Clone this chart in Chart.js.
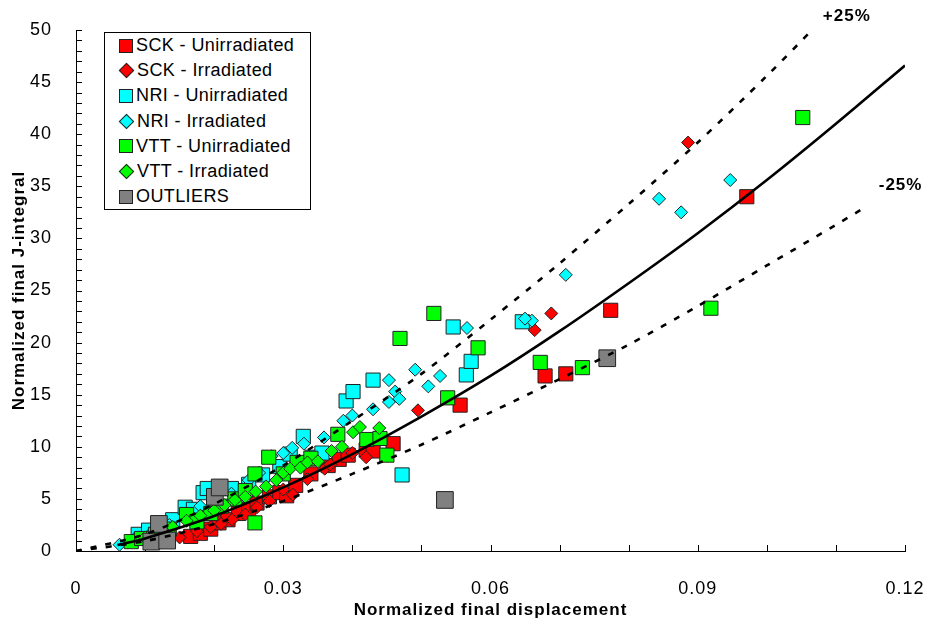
<!DOCTYPE html>
<html>
<head>
<meta charset="utf-8">
<script src="https://cdn.jsdelivr.net/npm/chart.js@4.4.0/dist/chart.umd.min.js"></script>
<style>
  body { margin: 0; background: #fff; }
  #wrap { position: relative; width: 925px; height: 628px; }
  #legend {
    position: absolute; left: 104px; top: 32px; width: 207px; height: 178px;
    box-sizing: border-box; border: 1px solid #000; background: #fff;
    font: 18px 'Liberation Sans', Arial, sans-serif; letter-spacing: 0.4px; color: #000; padding-top: 0px;
  }
  #legend .row { height: 25.2px; display: flex; align-items: center; white-space: nowrap; }
  #legend .mk { box-sizing: border-box; border: 1px solid #222; flex: none; }
</style>
</head>
<body>
<div id="wrap">
  <canvas id="chart1" width="925" height="628"></canvas>
  <div id="legend"></div>
</div>
<script>
// [normalized displacement, normalized J]
const sckUnirr = [
  [0.0166, 1.4], [0.0180, 1.7], [0.0195, 2.1], [0.0207, 2.7], [0.0220, 3.0],
  [0.0235, 3.6], [0.0250, 4.0], [0.0262, 4.6], [0.0280, 5.2], [0.0295, 5.6],
  [0.0305, 5.3], [0.0318, 6.3], [0.0340, 7.4], [0.0365, 8.2], [0.0381, 8.8],
  [0.0394, 9.2], [0.0420, 9.7], [0.0430, 9.6], [0.0459, 10.3], [0.0556, 14.0],
  [0.0679, 16.8], [0.0709, 17.0], [0.0774, 23.1], [0.0971, 34.0]
];
const sckIrr = [
  [0.0130, 1.0], [0.0150, 1.3], [0.0175, 1.9], [0.0195, 2.3], [0.0210, 2.6],
  [0.0226, 3.0], [0.0245, 3.5], [0.0262, 4.2], [0.0280, 4.8], [0.0300, 5.9],
  [0.0314, 5.4], [0.0335, 6.9], [0.0360, 7.9], [0.0368, 8.3], [0.0400, 9.4],
  [0.0420, 9.0], [0.0495, 13.5], [0.0664, 21.2], [0.0688, 22.8], [0.0886, 39.2]
];
const nriUnirr = [
  [0.0090, 1.6], [0.0105, 2.0], [0.0120, 2.3], [0.0140, 3.0], [0.0158, 4.2],
  [0.0170, 4.0], [0.0184, 5.6], [0.0190, 6.0], [0.0200, 4.8], [0.0225, 6.0],
  [0.0250, 6.4], [0.0270, 7.3], [0.0295, 8.1], [0.0310, 9.3], [0.0329, 11.0],
  [0.0342, 9.0], [0.0356, 9.4], [0.0391, 14.4], [0.0401, 15.3], [0.0430, 16.4],
  [0.0472, 7.3], [0.0546, 21.5], [0.0565, 16.9], [0.0572, 18.2], [0.0646, 22.0]
];
const nriIrr = [
  [0.0063, 0.6], [0.0085, 1.2], [0.0110, 1.8], [0.0135, 2.5], [0.0160, 3.5],
  [0.0180, 4.3], [0.0200, 4.6], [0.0225, 5.5], [0.0250, 6.8], [0.0265, 7.5],
  [0.0283, 9.1], [0.0300, 9.4], [0.0313, 9.9], [0.0330, 10.3], [0.0359, 10.9],
  [0.0387, 12.5], [0.0400, 13.0], [0.0430, 13.6], [0.0453, 14.3], [0.0462, 15.3],
  [0.0468, 14.6], [0.0453, 16.4], [0.0491, 17.4], [0.0510, 15.8], [0.0527, 16.8],
  [0.0566, 21.4], [0.0660, 22.1], [0.0650, 22.3], [0.0709, 26.5], [0.0844, 33.8],
  [0.0876, 32.5], [0.0947, 35.6]
];
const vttUnirr = [
  [0.0080, 0.9], [0.0095, 1.2], [0.0115, 1.6], [0.0135, 2.1], [0.0160, 3.5],
  [0.0175, 2.8], [0.0195, 3.6], [0.0210, 4.3], [0.0230, 5.0], [0.0245, 5.8],
  [0.0259, 7.4], [0.0259, 2.7], [0.0279, 9.0], [0.0300, 7.4], [0.0320, 8.5],
  [0.0340, 8.9], [0.0379, 11.2], [0.0421, 10.7], [0.0440, 10.8], [0.0450, 9.2],
  [0.0469, 20.4], [0.0518, 22.8], [0.0538, 14.7], [0.0582, 19.5], [0.0672, 18.1],
  [0.0733, 17.6], [0.0919, 23.3], [0.1052, 41.6]
];
const vttIrr = [
  [0.0100, 1.3], [0.0120, 1.8], [0.0140, 2.3], [0.0160, 2.9], [0.0180, 3.4],
  [0.0200, 3.9], [0.0215, 4.4], [0.0230, 4.9], [0.0245, 5.2], [0.0260, 5.7],
  [0.0275, 6.2], [0.0290, 6.8], [0.0300, 7.5], [0.0310, 7.9], [0.0325, 8.0],
  [0.0335, 8.5], [0.0350, 8.6], [0.0370, 9.6], [0.0385, 10.0], [0.0401, 11.4],
  [0.0411, 11.9], [0.0439, 11.8]
];
const outliers = [
  [0.0109, 0.9], [0.0132, 1.0], [0.0120, 2.6], [0.0201, 5.2], [0.0208, 6.1],
  [0.0534, 4.9], [0.0769, 18.5]
];

// curves
const fitX   = [0.006, 0.01, 0.02, 0.03, 0.04, 0.05, 0.06, 0.07, 0.08, 0.09, 0.10, 0.11, 0.12];
const fitY   = [0.57, 1.2, 3.35, 6.1, 9.3, 12.9, 16.8, 21.1, 25.7, 30.5, 35.6, 41.0, 46.6];
const upperX = [0, 0.01, 0.02, 0.03, 0.04, 0.05, 0.06, 0.07, 0.08, 0.09, 0.10, 0.107];
const upperY = [0, 1.6, 4.5, 8.2, 12.5, 17.0, 22.2, 27.6, 33.3, 39.2, 45.6, 50.3];
const lowerX = [0, 0.01, 0.02, 0.03, 0.04, 0.05, 0.06, 0.07, 0.08, 0.09, 0.10, 0.11, 0.1145];
const lowerY = [0, 0.95, 2.6, 4.8, 7.4, 10.2, 13.3, 16.5, 19.8, 23.5, 27.4, 31.3, 33.1];

const bandLabels = ['+25%', '-25%'];

const pts = arr => arr.map(p => ({x: p[0], y: p[1]}));
const curve = (xs, ys) => xs.map((x, i) => ({x: x, y: ys[i]}));

function markerSet(label, data, color, style, r, order) {
  return {
    label: label,
    data: pts(data),
    pointStyle: style,
    pointRadius: r,
    pointHoverRadius: r,
    backgroundColor: color,
    borderColor: '#222',
    borderWidth: 1,
    showLine: false,
    order: order
  };
}
function lineSet(label, data, dash, order) {
  return {
    label: label,
    data: data,
    showLine: true,
    pointRadius: 0,
    borderColor: '#000',
    borderWidth: 2.6,
    borderDash: dash,
    tension: 0.3,
    fill: false,
    order: order
  };
}

const series = [
  markerSet('SCK - Unirradiated', sckUnirr, '#ff0000', 'rect', 10, 8),
  markerSet('SCK - Irradiated', sckIrr, '#ff0000', 'rectRot', 6.5, 7),
  markerSet('NRI - Unirradiated', nriUnirr, '#00ffff', 'rect', 10, 6),
  markerSet('NRI - Irradiated', nriIrr, '#00ffff', 'rectRot', 6.5, 5),
  markerSet('VTT - Unirradiated', vttUnirr, '#00ff00', 'rect', 10, 4),
  markerSet('VTT - Irradiated', vttIrr, '#00ff00', 'rectRot', 6.5, 3),
  markerSet('OUTLIERS', outliers, '#808080', 'rect', 11.8, 2)
];

const lines = [
  lineSet('fit', curve(fitX, fitY), [], 1),
  lineSet('+25%', curve(upperX, upperY), [6, 9], 1),
  lineSet('-25%', curve(lowerX, lowerY), [6, 9], 1)
];

const axisTicks = {
  id: 'axisTicks',
  beforeDraw(chart) {
    chart.ctx.letterSpacing = '1px';
  },
  beforeDatasetsDraw(chart) {
    const ctx = chart.ctx, xs = chart.scales.x, ys = chart.scales.y;
    const area = chart.chartArea;
    ctx.save();
    ctx.strokeStyle = '#000';
    ctx.lineWidth = 1;
    ctx.beginPath();
    for (let i = 0; i <= 12; i++) {
      const px = Math.round(xs.getPixelForValue(i / 100)) + 0.5;
      ctx.moveTo(px, area.bottom);
      ctx.lineTo(px, area.bottom - 6);
    }
    for (let j = 0; j <= 50; j++) {
      const py = Math.round(ys.getPixelForValue(j)) + 0.5;
      ctx.moveTo(area.left, py);
      ctx.lineTo(area.left + 6, py);
    }
    ctx.stroke();
    ctx.restore();
  },
  afterDraw(chart) {
    const ctx = chart.ctx, xs = chart.scales.x, ys = chart.scales.y;
    ctx.save();
    ctx.fillStyle = '#000';
    ctx.font = 'bold 17px "Liberation Sans", Arial, sans-serif';
    ctx.textBaseline = 'middle';
    ctx.textAlign = 'left';
    ctx.fillText(bandLabels[0], xs.getPixelForValue(0.1081), ys.getPixelForValue(51.3));
    ctx.fillText(bandLabels[1], xs.getPixelForValue(0.1162), ys.getPixelForValue(35.1));
    ctx.restore();
  }
};

const config = {
  type: 'scatter',
  data: { datasets: series.concat(lines) },
  options: {
    responsive: false,
    animation: false,
    layout: { padding: { top: 30, right: 20, left: 0, bottom: 0 } },
    plugins: {
      legend: { display: false },
      tooltip: { enabled: false }
    },
    scales: {
      x: {
        type: 'linear',
        min: 0,
        max: 0.12,
        grid: { display: false },
        border: { display: true, color: '#000', width: 1 },
        ticks: {
          stepSize: 0.03,
          padding: 19,
          color: '#000',
          font: { family: '"Liberation Sans", Arial, sans-serif', size: 18 },
          callback: v => (v === 0 ? '0' : (+v.toFixed(2)).toString())
        },
        title: {
          display: true,
          text: 'Normalized final displacement',
          color: '#000',
          font: { family: '"Liberation Sans", Arial, sans-serif', size: 17, weight: 'bold' },
          padding: { top: 0, bottom: 7 }
        },
        afterFit: s => { s.height = 77; s.paddingLeft = 0; s.paddingRight = 0; }
      },
      y: {
        type: 'linear',
        min: 0,
        max: 50,
        grid: { display: false },
        border: { display: true, color: '#000', width: 1 },
        ticks: {
          stepSize: 5,
          padding: 16,
          color: '#000',
          font: { family: '"Liberation Sans", Arial, sans-serif', size: 18 }
        },
        title: {
          display: true,
          text: 'Normalized final J-integral',
          color: '#000',
          font: { family: '"Liberation Sans", Arial, sans-serif', size: 17, weight: 'bold' },
          padding: { top: 9, bottom: 0 }
        },
        afterFit: s => { s.width = 76; s.paddingTop = 0; s.paddingBottom = 0; }
      }
    }
  },
  plugins: [axisTicks]
};

var myChart = new Chart(document.getElementById('chart1'), config);

// legend box inside the plot
const legendBox = document.getElementById('legend');
series.forEach(ds => {
  const row = document.createElement('div');
  row.className = 'row';
  const mk = document.createElement('span');
  mk.className = 'mk';
  mk.style.background = ds.backgroundColor;
  if (ds.pointStyle === 'rectRot') {
    mk.style.width = '11px';
    mk.style.height = '11px';
    mk.style.margin = '0 5px 0 16px';
    mk.style.transform = 'rotate(45deg)';
  } else {
    mk.style.width = '14px';
    mk.style.height = '14px';
    mk.style.margin = '0 3px 0 14px';
  }
  const txt = document.createElement('span');
  txt.textContent = ds.label;
  row.appendChild(mk);
  row.appendChild(txt);
  legendBox.appendChild(row);
});
</script>
</body>
</html>
